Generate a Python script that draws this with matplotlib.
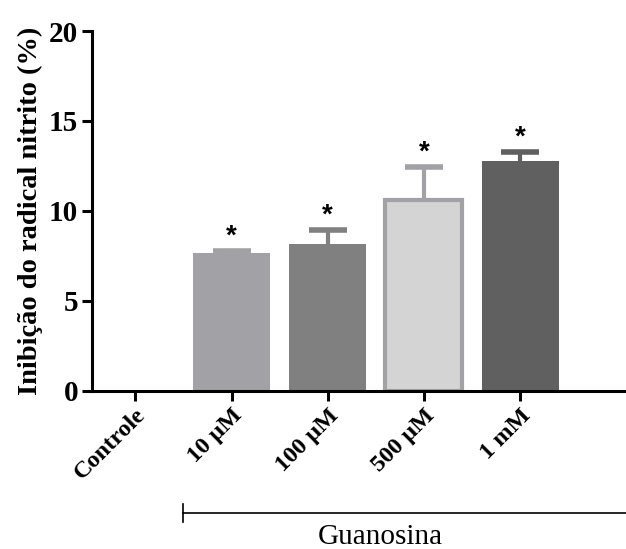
import matplotlib.pyplot as plt
from matplotlib.transforms import blended_transform_factory

categories = ['Controle', '10 μM', '100 μM', '500 μM', '1 mM']
values = [0, 7.65, 8.15, 10.6, 12.8]
errors = [0, 0.13, 0.8, 1.85, 0.5]
signif = ['', '*', '*', '*', '*']

fill_colors = ['white', '#a2a1a6', '#808080', '#d4d4d4', '#606060']
edge_colors = ['white', '#a2a1a6', '#808080', '#a2a1a6', '#606060']

plt.rcParams['font.family'] = ['Liberation Serif', 'DejaVu Serif']

fig = plt.figure(figsize=(6.26, 5.49), dpi=100)
ax = fig.add_axes([0.147, 0.288, 0.853, 0.6555])

x = range(len(categories))
for i in x:
    if values[i] == 0:
        continue
    lw = 3 if fill_colors[i] != edge_colors[i] else 0
    top = values[i] + errors[i]
    ax.bar(i, values[i], width=0.8, color=fill_colors[i], edgecolor=edge_colors[i],
           linewidth=lw, zorder=2)
    # upper error only: stem + cap
    ax.plot([i, i], [values[i], top], color=edge_colors[i], lw=3, zorder=1)
    ax.plot(i, top, marker='_', markersize=27, markeredgewidth=4,
            color=edge_colors[i], zorder=1)
    ax.annotate(signif[i], (i, top), xytext=(0, 10),
                textcoords='offset points', ha='center', va='center',
                fontsize=20, family='Liberation Sans', fontweight='bold')

ax.set_xlim(-0.45, 5.1)
ax.set_ylim(0, 20)
ax.set_yticks([0, 5, 10, 15, 20])
ax.set_xticks(list(x))
ax.set_xticklabels(categories, rotation=45, ha='right', rotation_mode='anchor',
                   fontsize=17.5, fontweight='bold')
for lab in ax.get_yticklabels():
    lab.set_fontsize(21)
    lab.set_fontweight('bold')
ax.set_ylabel('Inibição do radical nitrito (%)', fontsize=20.5, fontweight='bold', labelpad=4)

ax.spines['top'].set_visible(False)
ax.spines['right'].set_visible(False)
ax.spines['left'].set_linewidth(2.2)
ax.spines['bottom'].set_linewidth(2.2)
ax.tick_params(axis='both', width=2.2, length=7, pad=3)

# Guanosina group line
tr = blended_transform_factory(ax.transData, ax.transAxes)
ax.plot([0.5, 5.2], [-0.339, -0.339], color='black', lw=1.2, clip_on=False, transform=tr)
ax.plot([0.5, 0.5], [-0.313, -0.365], color='black', lw=1.2, clip_on=False, transform=tr)
ax.text(2.55, -0.405, 'Guanosina', transform=tr, ha='center', va='center', fontsize=21)

fig.savefig('out.png', dpi=100)
